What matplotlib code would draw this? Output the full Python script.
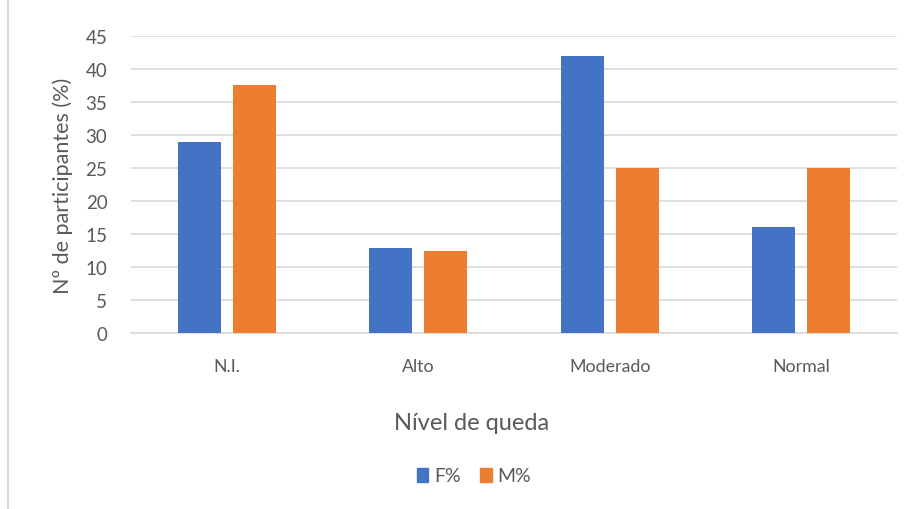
import matplotlib.pyplot as plt
import numpy as np
from matplotlib.lines import Line2D
from matplotlib.patches import Patch

categories = ["N.I.", "Alto", "Moderado", "Normal"]
f_pct = [29, 12.9, 42, 16.1]
m_pct = [37.5, 12.5, 25, 25]
series_names = ["F%", "M%"]
yticks = [0, 5, 10, 15, 20, 25, 30, 35, 40, 45]

blue = "#4472C4"
orange = "#ED7D31"
txt = "#595959"

plt.rcParams['font.family'] = ['Lato', 'DejaVu Sans']

fig = plt.figure(figsize=(9.15, 5.10), dpi=100)
ax = fig.add_axes([131/915, 1-334/510, (897-131)/915, (334-37)/510])

x = np.arange(len(categories))
w = 0.225
off = 0.143
ax.bar(x - off, f_pct, w, color=blue, zorder=3)
ax.bar(x + off, m_pct, w, color=orange, zorder=3)

ax.set_xlim(-0.5, len(categories) - 0.5)
ax.set_ylim(0, 45)
ax.set_yticks(yticks)
ax.set_xticks(x)
ax.set_xticklabels(categories)
ax.yaxis.grid(True, color="#D9D9D9", linewidth=1.2, zorder=0)
ax.set_axisbelow(True)
for s in ["top", "right", "left"]:
    ax.spines[s].set_visible(False)
ax.spines["bottom"].set_color("#D9D9D9")
ax.spines["bottom"].set_linewidth(1.2)
ax.tick_params(axis="both", length=0, colors=txt)
ax.tick_params(axis="y", pad=17, labelsize=13.5)
ax.tick_params(axis="x", pad=18, labelsize=12.8)

ax.set_ylabel("Nº de participantes (%)", fontsize=15.5, color=txt, labelpad=9)
fig.text(472/915, 1-423/510, "Nível de queda", fontsize=17, color=txt,
         ha="center", va="center")

handles = [Patch(color=blue), Patch(color=orange)]
fig.legend(handles, series_names, loc="center", bbox_to_anchor=(474/915, 1-477/510),
           ncol=2, frameon=False, fontsize=14, labelcolor=txt,
           handlelength=0.6, handleheight=0.7, handletextpad=0.3, columnspacing=1.0)

fig.add_artist(Line2D([8/915, 8/915], [0, 1], color="#D9D9D9", linewidth=1.5))

fig.savefig("out.png", dpi=100)
